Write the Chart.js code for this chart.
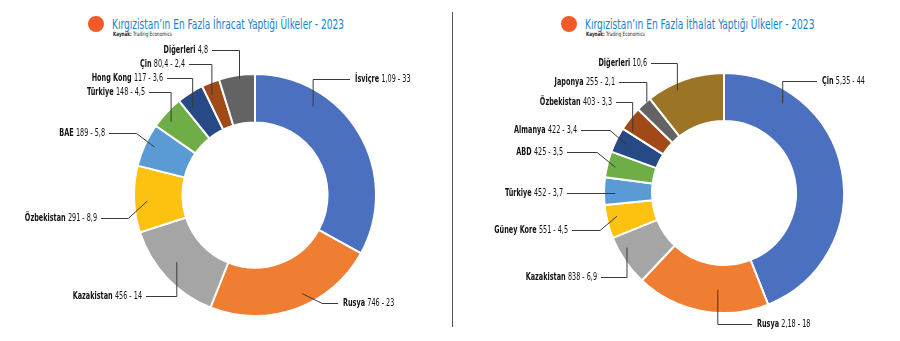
<!DOCTYPE html>
<html lang="tr">
<head>
<meta charset="UTF-8">
<title>Kırgızistan Dış Ticaret 2023</title>
<style>
    body { margin: 0; background: #fff; width: 900px; height: 341px; overflow: hidden; position: relative; font-family: "Liberation Sans Narrow", "DejaVu Sans Condensed", sans-serif; }
    canvas { position: absolute; top: 0; }
    #left { left: 0; }
    #right { left: 450px; }
    .head { position: absolute; top: 16px; }
    .dot { position: absolute; left: 0; top: 0; width: 16px; height: 16px; border-radius: 50%; background: #f15a29; }
    .title { position: absolute; left: 24px; top: 0px; white-space: nowrap; font-size: 14px; color: #2282c6; line-height: 16px; transform: scaleX(0.72); transform-origin: left center; }
    .src { position: absolute; left: 25px; top: 14px; white-space: nowrap; font-size: 6px; color: #222; transform: scaleX(0.77); transform-origin: left center; }
    .src b { font-weight: bold; }
    .divider { position: absolute; left: 452px; top: 12px; width: 1px; height: 315px; background: #555; }
</style>
</head>
<body>
<div class="head" style="left:88px"><div class="dot"></div><div class="title">Kırgızistan’ın En Fazla İhracat Yaptığı Ülkeler - 2023</div><div class="src"><b>Kaynak:</b> Trading Economics</div></div>
<div class="head" style="left:561px"><div class="dot"></div><div class="title">Kırgızistan’ın En Fazla İthalat Yaptığı Ülkeler - 2023</div><div class="src"><b>Kaynak:</b> Trading Economics</div></div>
<div class="divider"></div>
<canvas id="left" width="450" height="341"></canvas>
<canvas id="right" width="450" height="341"></canvas>

<script src="https://cdn.jsdelivr.net/npm/chart.js"></script>
<script>
    // Exports (ihracat): country, amount text (as printed), share %
    const exportCountries = ['İsviçre', 'Rusya', 'Kazakistan', 'Özbekistan', 'BAE', 'Türkiye', 'Hong Kong', 'Çin', 'Diğerleri'];
    const exportAmounts = ['1,09', '746', '456', '291', '189', '148', '117', '80,4', ''];
    const exportShares = [33, 23, 14, 8.9, 5.8, 4.5, 3.6, 2.4, 4.8];

    // Imports (ithalat)
    const importCountries = ['Çin', 'Rusya', 'Kazakistan', 'Güney Kore', 'Türkiye', 'ABD', 'Almanya', 'Özbekistan', 'Japonya', 'Diğerleri'];
    const importAmounts = ['5,35', '2,18', '838', '551', '452', '425', '422', '403', '255', ''];
    const importShares = [44, 18, 6.9, 4.5, 3.7, 3.5, 3.4, 3.3, 2.1, 10.6];

    const exportColors = ['#4a70bf', '#ef7d32', '#a5a5a5', '#fdc10f', '#5b9bd5', '#6fad47', '#274a86', '#a14a18', '#636363'];
    const importColors = ['#4a70bf', '#ef7d32', '#a5a5a5', '#fdc10f', '#5b9bd5', '#6fad47', '#274a86', '#a14a18', '#636363', '#9b7426'];

    // label placement relative to the doughnut centre (dx, dy), anchor position along the arc (t) and ring (rf), elbow offset (bend)
    const exportLayout = [
        { dx: 100, dy: -116, t: 0.28, rf: 0.69, bend: 0 },
        { dx: 88, dy: 108, t: 0.43, rf: 0.76, bend: 20 },
        { dx: -113, dy: 101, t: 0.55, rf: 0.63, bend: 0 },
        { dx: -158, dy: 23, t: 0.46, rf: 0.73, bend: 19 },
        { dx: -150, dy: -62, t: 0.55, rf: 0.8, bend: 18 },
        { dx: -110, dy: -103, t: 0.38, rf: 0.8, bend: 0 },
        { dx: -92, dy: -117, t: 0.25, rf: 0.71, bend: 0 },
        { dx: -70, dy: -131, t: 0.3, rf: 0.75, bend: 0 },
        { dx: -47, dy: -145, t: 0.56, rf: 0.92, bend: 0 }
    ];
    const importLayout = [
        { dx: 98, dy: -112, t: 0.21, rf: 0.73, bend: 0 },
        { dx: 33, dy: 131, t: 0.39, rf: 0.52, bend: 0 },
        { dx: -127, dy: 84, t: 0.7, rf: 0.82, bend: 0 },
        { dx: -156, dy: 37, t: 0.6, rf: 0.78, bend: 17 },
        { dx: -161, dy: 0, t: 0.43, rf: 0.77, bend: 0 },
        { dx: -161, dy: -41, t: 0.46, rf: 0.83, bend: 18 },
        { dx: -147, dy: -63, t: 0.5, rf: 0.75, bend: 17 },
        { dx: -112, dy: -91, t: 0.12, rf: 0.79, bend: 0 },
        { dx: -109, dy: -111, t: 0.7, rf: 0.98, bend: 0 },
        { dx: -77, dy: -130, t: 0.36, rf: 0.85, bend: 0 }
    ];

    const FONT = '"Liberation Sans Narrow", "DejaVu Sans Condensed", sans-serif';
    const SQUEEZE = 0.72;

    function fmt(v) { return String(v).replace('.', ','); }

    const leaderLabels = {
        id: 'leaderLabels',
        afterDatasetsDraw(chart, args, opts) {
            const ctx = chart.ctx;
            const meta = chart.getDatasetMeta(0);
            const names = chart.data.labels;
            const shares = chart.data.datasets[0].data;
            ctx.save();
            ctx.strokeStyle = '#3a3a3a';
            ctx.lineWidth = 1;
            ctx.textBaseline = 'middle';
            meta.data.forEach((arc, i) => {
                const L = opts.layout[i];
                const p = arc.getProps(['x', 'y', 'startAngle', 'endAngle', 'innerRadius', 'outerRadius'], true);
                const a = p.startAngle + L.t * (p.endAngle - p.startAngle);
                const r = p.innerRadius + L.rf * (p.outerRadius - p.innerRadius);
                const ax = p.x + r * Math.cos(a), ay = p.y + r * Math.sin(a);
                const tx = p.x + L.dx, ty = p.y + L.dy;
                const side = L.dx > 0 ? 1 : -1;

                const name = names[i];
                const amt = opts.amounts[i];
                const val = amt ? amt + ' - ' + fmt(shares[i]) : fmt(shares[i]);
                ctx.font = 'bold 10px ' + FONT;
                const wName = ctx.measureText(name + ' ').width;
                ctx.font = '10px ' + FONT;
                const wVal = ctx.measureText(val).width;
                const left = side > 0 ? tx : tx - (wName + wVal) * SQUEEZE;

                ctx.save();
                ctx.translate(left, ty);
                ctx.scale(SQUEEZE, 1);
                ctx.fillStyle = '#111';
                ctx.textAlign = 'left';
                ctx.font = 'bold 10px ' + FONT;
                ctx.fillText(name, 0, 0);
                ctx.font = '10px ' + FONT;
                ctx.fillText(val, wName, 0);
                ctx.restore();

                const sx = side > 0 ? tx - 5 : tx + 4;
                const ex = ax + side * L.bend;
                ctx.beginPath();
                ctx.moveTo(sx, ty + 0.5);
                ctx.lineTo(ex, ty + 0.5);
                ctx.lineTo(ax, ay);
                ctx.stroke();
            });
            ctx.restore();
        }
    };

    function makeChart(id, labels, shares, colors, amounts, layout, padding) {
        return new Chart(document.getElementById(id), {
            type: 'doughnut',
            data: {
                labels: labels,
                datasets: [{
                    data: shares,
                    backgroundColor: colors,
                    borderColor: '#ffffff',
                    borderWidth: 2
                }]
            },
            options: {
                responsive: false,
                animation: false,
                cutout: '60%',
                layout: { padding: padding },
                plugins: {
                    legend: { display: false },
                    tooltip: { enabled: false },
                    leaderLabels: { layout: layout, amounts: amounts }
                }
            },
            plugins: [leaderLabels]
        });
    }

    makeChart('left', exportCountries, exportShares, exportColors, exportAmounts, exportLayout,
        { left: 133, right: 73, top: 73, bottom: 24 });
    makeChart('right', importCountries, importShares, importColors, importAmounts, importLayout,
        { left: 153, right: 55, top: 72, bottom: 27 });
</script>
</body>
</html>
